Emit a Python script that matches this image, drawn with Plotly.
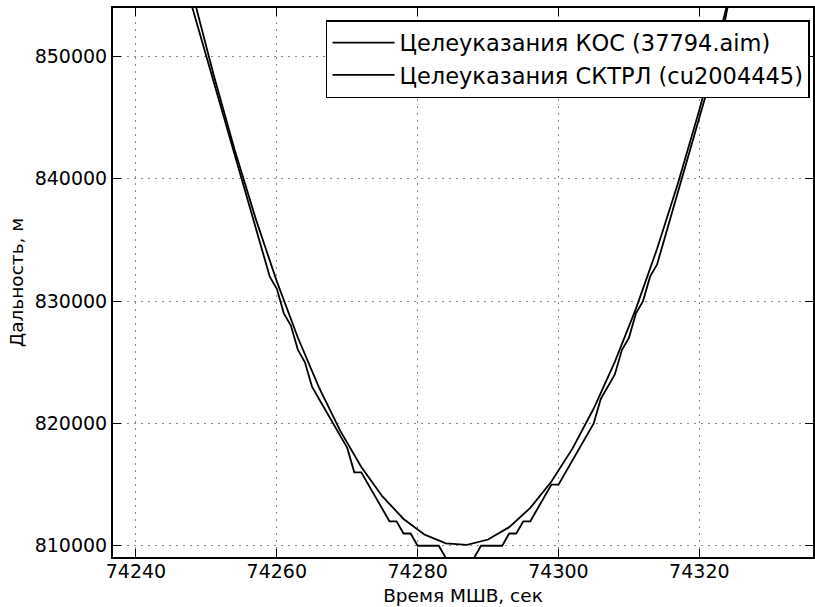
import plotly.graph_objects as go

# КОС target designations: time (s, MSV) and range (m), 3-second samples
kos_t = [74245, 74248, 74251, 74254, 74257, 74260, 74263, 74266, 74269, 74272,
         74275, 74278, 74281, 74284, 74287, 74290, 74293, 74296, 74299, 74302,
         74305, 74308, 74311, 74314, 74317, 74320, 74323, 74326]
kos_r = [862370, 855220, 848560, 842400, 836740, 831610, 827000, 822930, 819410, 816440,
         814030, 812190, 810910, 810200, 810070, 810510, 811520, 813100, 815250, 817960,
         821220, 825030, 829390, 834280, 839690, 845620, 852050, 858980]

# СКТРЛ target designations: 1-second samples, range quantised to 1 km
sk_t = list(range(74247, 74326))
sk_r = [857000, 854000, 852000, 850000, 848000, 846000, 844000, 842000, 840000, 838000,
        836000, 834000, 832000, 831000, 829000, 828000, 826000, 825000, 823000, 822000,
        821000, 820000, 819000, 818000, 816000, 816000, 815000, 814000, 813000, 812000,
        812000, 811000, 811000, 810000, 810000, 810000, 810000, 809000, 809000, 809000,
        809000, 809000, 810000, 810000, 810000, 810000, 811000, 811000, 812000, 812000,
        813000, 814000, 815000, 815000, 816000, 817000, 818000, 819000, 820000, 822000,
        823000, 824000, 826000, 827000, 829000, 830000, 832000, 833000, 835000, 837000,
        839000, 841000, 843000, 845000, 847000, 849000, 851000, 854000, 856000]

x_ticks = [74240, 74260, 74280, 74300, 74320]
y_ticks = [810000, 820000, 830000, 840000, 850000]

names = ["Целеуказания КОС (37794.aim)", "Целеуказания СКТРЛ (cu2004445)"]

fig = go.Figure()
fig.add_trace(go.Scatter(x=kos_t, y=kos_r, mode="lines", name=names[0],
                         line=dict(color="black", width=1.8)))
fig.add_trace(go.Scatter(x=sk_t, y=sk_r, mode="lines", name=names[1],
                         line=dict(color="black", width=1.8)))

axis_common = dict(
    showline=True, linecolor="black", linewidth=2, mirror="ticks",
    ticks="inside", ticklen=8, tickwidth=1, tickcolor="black",
    showgrid=True, gridcolor="#888888", gridwidth=1, griddash="2px,5px",
    zeroline=False, tickfont=dict(size=19, color="black"),
)

fig.update_layout(
    width=815, height=607,
    margin=dict(l=113, r=0, t=8, b=50),
    paper_bgcolor="white", plot_bgcolor="white",
    font=dict(family="DejaVu Sans", size=18.5, color="black"),
    showlegend=True,
    legend=dict(x=0.9957, y=0.978, xanchor="right", yanchor="top",
                bgcolor="white", bordercolor="black", borderwidth=1.5,
                font=dict(size=22.5), itemwidth=62),
    xaxis=dict(range=[74236.74, 74336.14], tickvals=x_ticks,
               ticktext=[str(v) for v in x_ticks],
               ticklabelstandoff=-4,
               title=dict(text="Время МШВ, сек", font=dict(size=18.5), standoff=8),
               **axis_common),
    yaxis=dict(range=[809080, 853960], tickvals=y_ticks,
               ticktext=[str(v) for v in y_ticks],
               title=dict(text="Дальность, м", font=dict(size=18.5), standoff=6),
               **axis_common),
)

fig.write_html("out.html")
